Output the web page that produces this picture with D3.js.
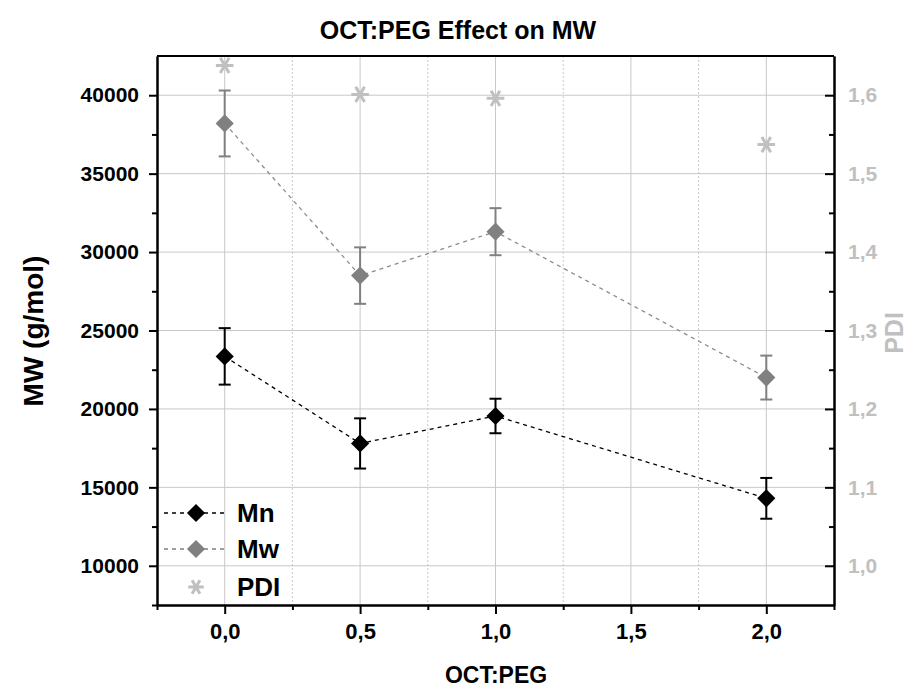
<!DOCTYPE html>
<html>
<head>
<meta charset="utf-8">
<script src="https://cdn.jsdelivr.net/npm/d3@7"></script>
<style>
  body { margin: 0; background: #fff; }
  text { font-family: "Liberation Sans", Arial, sans-serif; font-weight: bold; }
</style>
</head>
<body>
<div class="chart"></div>
<script>
const ratios = [0.0, 0.5, 1.0, 2.0];
const mnValues = [23350, 17800, 19550, 14300];
const mnErrors = [1800, 1600, 1100, 1300];
const mwValues = [38200, 28500, 31300, 22000];
const mwErrors = [2100, 1800, 1500, 1400];
const pdiValues = [1.638, 1.601, 1.596, 1.537];

const xTicks = [0, 0.5, 1.0, 1.5, 2.0];
const yTicks = [10000, 15000, 20000, 25000, 30000, 35000, 40000];
const pdiTicks = [1.0, 1.1, 1.2, 1.3, 1.4, 1.5, 1.6];

const width = 911, height = 689;
const margin = {top: 56, right: 77, bottom: 84, left: 157};

const svg = d3.select('.chart')
  .append('svg')
    .attr('width', width)
    .attr('height', height);

const x = d3.scaleLinear()
  .domain([-0.25, 2.25])
  .range([margin.left, width - margin.right]);

const y = d3.scaleLinear()
  .domain([7500, 42500])
  .range([height - margin.bottom, margin.top]);

const y2 = d3.scaleLinear()
  .domain([0.95, 1.65])
  .range([height - margin.bottom, margin.top]);

const comma = v => d3.format('.1f')(v).replace('.', ',');

// grid
svg.append('g')
  .selectAll('line')
  .data(yTicks)
  .join('line')
    .attr('x1', margin.left).attr('x2', width - margin.right)
    .attr('y1', d => y(d)).attr('y2', d => y(d))
    .attr('stroke', '#c8c8c8').attr('stroke-width', 1);

svg.append('g')
  .selectAll('line')
  .data(xTicks)
  .join('line')
    .attr('x1', d => x(d)).attr('x2', d => x(d))
    .attr('y1', margin.top).attr('y2', height - margin.bottom)
    .attr('stroke', '#c8c8c8').attr('stroke-width', 1);

svg.append('g')
  .selectAll('line')
  .data([0.25, 0.75, 1.25, 1.75])
  .join('line')
    .attr('x1', d => x(d)).attr('x2', d => x(d))
    .attr('y1', margin.top).attr('y2', height - margin.bottom)
    .attr('stroke', '#c8c8c8').attr('stroke-width', 1)
    .attr('stroke-dasharray', '2,2');

// axes
const xAxis = g => g
  .attr('transform', `translate(0, ${height - margin.bottom})`)
  .call(d3.axisBottom(x).tickValues(xTicks).tickFormat(comma).tickSize(9).tickSizeOuter(0).tickPadding(9))
  .call(g => g.append('g').call(d3.axisBottom(x).tickValues([-0.25, 0.25, 0.75, 1.25, 1.75, 2.25]).tickFormat('').tickSize(5).tickSizeOuter(0)));

const yAxis = g => g
  .attr('transform', `translate(${margin.left}, 0)`)
  .call(d3.axisLeft(y).tickValues(yTicks).tickFormat(d3.format('d')).tickSize(8).tickSizeOuter(0).tickPadding(10))
  .call(g => g.append('g').call(d3.axisLeft(y).tickValues([7500, 12500, 17500, 22500, 27500, 32500, 37500]).tickFormat('').tickSize(5).tickSizeOuter(0)));

const y2Axis = g => g
  .attr('transform', `translate(${width - margin.right}, 0)`)
  .call(d3.axisRight(y2).tickValues(pdiTicks).tickFormat(comma).tickSize(-9).tickSizeOuter(0).tickPadding(14))
  .call(g => g.append('g').call(d3.axisRight(y2).tickValues([1.05, 1.15, 1.25, 1.35, 1.45, 1.55]).tickFormat('').tickSize(-5).tickSizeOuter(0)));

const gx = svg.append('g').call(xAxis);
const gy = svg.append('g').call(yAxis);
const gy2 = svg.append('g').call(y2Axis);

svg.selectAll('.domain').attr('stroke', '#000').attr('stroke-width', 2);
svg.selectAll('.tick line').attr('stroke', '#000').attr('stroke-width', 2);
svg.selectAll('.tick text').attr('font-size', '21px').attr('fill', '#000');
gx.selectAll('.tick text').attr('font-size', '22px');
gy2.selectAll('.tick text').attr('fill', '#c0c0c0');

// top frame
svg.append('line')
  .attr('x1', margin.left).attr('x2', width - margin.right)
  .attr('y1', margin.top).attr('y2', margin.top)
  .attr('stroke', '#000').attr('stroke-width', 2);

// series
const series = [
  {name: 'Mw', values: mwValues, errors: mwErrors, color: '#808080', lineColor: '#8c8c8c'},
  {name: 'Mn', values: mnValues, errors: mnErrors, color: '#000', lineColor: '#000'}
];

const diamond = d3.symbol().type(d3.symbolSquare).size(165);
const line = d3.line().x(d => x(d[0])).y(d => y(d[1]));

series.forEach(s => {
  const pts = ratios.map((r, i) => [r, s.values[i], s.errors[i]]);
  svg.append('path')
    .attr('d', line(pts))
    .attr('fill', 'none')
    .attr('stroke', s.lineColor)
    .attr('stroke-width', 1.3)
    .attr('stroke-dasharray', '4,4');

  const eg = svg.append('g');
  eg.selectAll('line.bar')
    .data(pts)
    .join('line')
      .attr('x1', d => x(d[0])).attr('x2', d => x(d[0]))
      .attr('y1', d => y(d[1] - d[2])).attr('y2', d => y(d[1] + d[2]))
      .attr('stroke', s.color).attr('stroke-width', 2);
  ['-', '+'].forEach(sign => {
    eg.append('g').selectAll('line')
      .data(pts)
      .join('line')
        .attr('x1', d => x(d[0]) - 6).attr('x2', d => x(d[0]) + 6)
        .attr('y1', d => y(sign === '+' ? d[1] + d[2] : d[1] - d[2]))
        .attr('y2', d => y(sign === '+' ? d[1] + d[2] : d[1] - d[2]))
        .attr('stroke', s.color).attr('stroke-width', 2);
  });

  svg.append('g').selectAll('path')
    .data(pts)
    .join('path')
      .attr('d', diamond)
      .attr('transform', d => `translate(${x(d[0])}, ${y(d[1])}) rotate(45)`)
      .attr('fill', s.color);
});

const asterisk = d3.symbol().type(d3.symbolAsterisk).size(220);
svg.append('g').selectAll('path')
  .data(ratios.map((r, i) => [r, pdiValues[i]]))
  .join('path')
    .attr('d', asterisk)
    .attr('transform', d => `translate(${x(d[0])}, ${y2(d[1])}) rotate(90)`)
    .attr('fill', 'none')
    .attr('stroke', '#c0c0c0')
    .attr('stroke-width', 3);

// legend
const legend = svg.append('g');
const legendItems = [
  {name: 'Mn', color: '#000', type: 'diamond', y: 513},
  {name: 'Mw', color: '#808080', type: 'diamond', y: 549},
  {name: 'PDI', color: '#c0c0c0', type: 'asterisk', y: 587}
];
legendItems.forEach(it => {
  if (it.type === 'diamond') {
    legend.append('line')
      .attr('x1', 164).attr('x2', 228)
      .attr('y1', it.y).attr('y2', it.y)
      .attr('stroke', it.color).attr('stroke-width', 1.3)
      .attr('stroke-dasharray', '4,4');
    legend.append('path')
      .attr('d', diamond)
      .attr('transform', `translate(196, ${it.y}) rotate(45)`)
      .attr('fill', it.color);
  } else {
    legend.append('path')
      .attr('d', d3.symbol().type(d3.symbolAsterisk).size(170))
      .attr('transform', `translate(196, ${it.y}) rotate(90)`)
      .attr('fill', 'none')
      .attr('stroke', it.color)
      .attr('stroke-width', 3);
  }
  legend.append('text')
    .attr('x', 237).attr('y', it.y + 9)
    .attr('font-size', '26px')
    .text(it.name);
});

// titles
svg.append('text')
  .attr('x', 458).attr('y', 39)
  .attr('text-anchor', 'middle')
  .attr('font-size', '25px')
  .text('OCT:PEG Effect on MW');

svg.append('text')
  .attr('x', 496).attr('y', 683)
  .attr('text-anchor', 'middle')
  .attr('font-size', '23px')
  .text('OCT:PEG');

svg.append('text')
  .attr('transform', 'translate(43, 331) rotate(-90)')
  .attr('text-anchor', 'middle')
  .attr('font-size', '28px')
  .text('MW (g/mol)');

svg.append('text')
  .attr('transform', 'translate(903, 333) rotate(-90)')
  .attr('text-anchor', 'middle')
  .attr('font-size', '25px')
  .attr('fill', '#c0c0c0')
  .text('PDI');
</script>
</body>
</html>
